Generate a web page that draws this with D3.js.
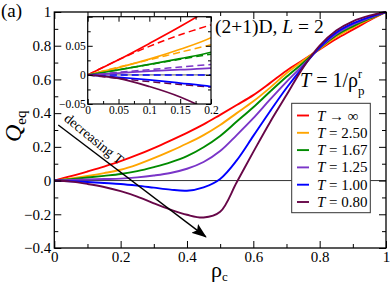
<!DOCTYPE html>
<html lang="en">
<head>
<meta charset="utf-8">
<title>Q_eq vs rho_c</title>
<script src="https://cdn.jsdelivr.net/npm/d3@7"></script>
<style>
  body { margin: 0; background: #fff; }
  svg, text { font-family: "Liberation Serif", "Times New Roman", serif; fill: #000; }
  .axis path, .axis line { stroke: #000; }
</style>
</head>
<body>
<script>
// rho_c sample points (main curves)
var rho = [0, 0.05, 0.1, 0.15, 0.2, 0.25, 0.3, 0.35, 0.4, 0.45, 0.5,
           0.55, 0.6, 0.65, 0.7, 0.75, 0.8, 0.85, 0.9, 0.95, 1];

// Q_eq for each temperature
var qInf  = [0, 0.026, 0.054, 0.083, 0.115, 0.152, 0.193, 0.237, 0.283, 0.333, 0.39,
             0.448, 0.507, 0.578, 0.652, 0.715, 0.778, 0.84, 0.895, 0.95, 1];
var q250  = [0, 0.0125, 0.027, 0.044, 0.064, 0.095, 0.133, 0.175, 0.22, 0.27, 0.33,
             0.4, 0.47, 0.55, 0.636, 0.71, 0.782, 0.853, 0.908, 0.956, 1];
var q167  = [0, 0.0085, 0.018, 0.028, 0.039, 0.056, 0.08, 0.108, 0.145, 0.198, 0.265,
             0.35, 0.435, 0.527, 0.616, 0.698, 0.785, 0.862, 0.915, 0.96, 1];
var q125  = [0, 0.003, 0.0065, 0.009, 0.0115, 0.019, 0.03, 0.045, 0.07, 0.11, 0.175,
             0.27, 0.37, 0.48, 0.586, 0.685, 0.787, 0.87, 0.925, 0.965, 1];
var q100  = [0, -0.004, -0.0085, -0.014, -0.02, -0.03, -0.042, -0.054, -0.06, -0.04, 0.01,
             0.12, 0.265, 0.41, 0.549, 0.675, 0.79, 0.878, 0.932, 0.97, 1];
var q080  = [0, -0.006, -0.02, -0.038, -0.063, -0.095, -0.135, -0.172, -0.203, -0.219, -0.185,
             -0.01, 0.17, 0.345, 0.507, 0.67, 0.8, 0.89, 0.945, 0.978, 1];

// inset dashed curves
var rhoInset = [0, 0.05, 0.1, 0.15, 0.2];
var dInf = [0, 0.026, 0.049, 0.069, 0.086];
var d250 = [0, 0.0135, 0.026, 0.039, 0.0517];
var d167 = [0, 0.009, 0.0178, 0.0268, 0.0357];
var d125 = [0, 0.0045, 0.009, 0.0135, 0.018];
var d100 = [0, 0, 0, 0, 0];
var d080 = [0, -0.006, -0.0115, -0.0165, -0.021];

var labels = ["T \u2192 \u221e", "T = 2.50", "T = 1.67", "T = 1.25", "T = 1.00", "T = 0.80"];
var colors = ["#ff0000", "#ffa500", "#008b00", "#7a35c8", "#0000ff", "#670748"];
var solidSeries = [qInf, q250, q167, q125, q100, q080];
var dashSeries = [dInf, d250, d167, d125, d100, d080];

var xMajor = [0, 0.2, 0.4, 0.6, 0.8, 1];
var xMinor = [0.1, 0.3, 0.5, 0.7, 0.9];
var yMajor = [-0.4, -0.2, 0, 0.2, 0.4, 0.6, 0.8, 1];
var yMinor = [-0.3, -0.1, 0.1, 0.3, 0.5, 0.7, 0.9];
var xiMajor = [0, 0.05, 0.1, 0.15, 0.2];
var xiMinor = [0.025, 0.075, 0.125, 0.175];
var yiMajor = [-0.05, 0, 0.05, 0.1];
var yiMinor = [-0.025, 0.025, 0.075];

var SERIF = "Liberation Serif";
var w = 390, h = 284;
var svg = d3.select("body").append("svg").attr("width", w).attr("height", h)
    .attr("font-family", SERIF);

// main scales
var x = d3.scaleLinear().domain([0, 1]).range([54.3, 386]);
var y = d3.scaleLinear().domain([-0.4, 1]).range([248, 12]);

var defs = svg.append("defs");
defs.append("clipPath").attr("id", "clipMain").append("rect")
    .attr("x", x(0)).attr("y", y(1) - 2).attr("width", x(1) - x(0) + 2).attr("height", y(-0.4) - y(1) + 2);
defs.append("marker").attr("id", "arrow")
    .attr("markerUnits", "userSpaceOnUse")
    .attr("viewBox", "0 0 15 11").attr("refX", 14).attr("refY", 5.5)
    .attr("markerWidth", 15).attr("markerHeight", 11).attr("orient", "auto")
    .append("path").attr("d", "M0,0 L15,5.5 L0,11 L3,5.5 Z").attr("fill", "#000");

// zero line
svg.append("line")
    .attr("x1", x(0)).attr("x2", x(1)).attr("y1", y(0)).attr("y2", y(0))
    .attr("stroke", "#333").attr("stroke-width", 1);

var line = d3.line()
    .x(function (d) { return x(d[0]); })
    .y(function (d) { return y(d[1]); })
    .curve(d3.curveCatmullRom.alpha(0.5));

svg.append("g").attr("clip-path", "url(#clipMain)")
    .selectAll("path").data(solidSeries).enter().append("path")
    .attr("d", function (s) { return line(s.map(function (v, i) { return [rho[i], v]; })); })
    .attr("fill", "none")
    .attr("stroke", function (s, i) { return colors[i]; })
    .attr("stroke-width", 1.9);

// axes, ticks pointing inward on all sides
function mkAxis(fn, scale, vals, size, labelled, pad) {
    var a = fn(scale).tickValues(vals).tickSize(size).tickSizeOuter(0).tickPadding(pad || 3);
    if (!labelled) a.tickFormat("");
    return a;
}
var fmt = function (d) { return d3.format("")(+d.toFixed(2)); };

var gx = svg.append("g").attr("class", "axis").attr("transform", "translate(0," + y(-0.4) + ")");
gx.call(mkAxis(d3.axisBottom, x, xMajor, -7, true, 3).tickFormat(fmt));
gx.append("g").call(mkAxis(d3.axisBottom, x, xMinor, -4, false));
var gxt = svg.append("g").attr("class", "axis").attr("transform", "translate(0," + y(1) + ")");
gxt.call(mkAxis(d3.axisTop, x, xMajor, -7, false));
gxt.append("g").call(mkAxis(d3.axisTop, x, xMinor, -4, false));

var gy = svg.append("g").attr("class", "axis").attr("transform", "translate(" + x(0) + ",0)");
gy.call(mkAxis(d3.axisLeft, y, yMajor, -7, true, 3).tickFormat(fmt));
gy.append("g").call(mkAxis(d3.axisLeft, y, yMinor, -4, false));
var gyr = svg.append("g").attr("class", "axis").attr("transform", "translate(" + x(1) + ",0)");
gyr.call(mkAxis(d3.axisRight, y, yMajor, -7, false));
gyr.append("g").call(mkAxis(d3.axisRight, y, yMinor, -4, false));

svg.selectAll(".axis text").style("font-size", "15px");
svg.selectAll(".axis .domain").remove();
svg.append("rect").attr("x", x(0)).attr("y", y(1))
    .attr("width", x(1) - x(0)).attr("height", y(-0.4) - y(1))
    .attr("fill", "none").attr("stroke", "#000").attr("stroke-width", 1.3);

// axis titles
var xl = svg.append("text").attr("x", 211).attr("y", 277).style("font-size", "22px");
xl.append("tspan").text("\u03c1");
xl.append("tspan").attr("dy", 4).style("font-size", "13px").text("c");
var ql = svg.append("text").attr("transform", "translate(21,142) rotate(-90)").style("font-size", "24px");
ql.append("tspan").style("font-style", "italic").text("Q");
ql.append("tspan").attr("dy", 5).style("font-size", "15px").text("eq");

svg.append("text").attr("x", 1).attr("y", 17).style("font-size", "19px").text("(a)");

// arrow "decreasing T"
var a0 = [0.012, 0.33], a1 = [0.457, -0.334];
svg.append("line")
    .attr("x1", x(a0[0])).attr("y1", y(a0[1])).attr("x2", x(a1[0])).attr("y2", y(a1[1]))
    .attr("stroke", "#000").attr("stroke-width", 1.4).attr("marker-end", "url(#arrow)");
var ang = Math.atan2(y(a1[1]) - y(a0[1]), x(a1[0]) - x(a0[0])) * 180 / Math.PI;
svg.append("text")
    .attr("transform", "translate(" + (x(a0[0]) + 5) + "," + (y(a0[1]) - 5) + ") rotate(" + (ang + 2) + ")")
    .style("font-size", "14px").text("decreasing T");

// labels
var t1 = svg.append("text").attr("x", 215).attr("y", 33).style("font-size", "19.5px");
t1.append("tspan").text("(2+1)D, ");
t1.append("tspan").style("font-style", "italic").text("L");
t1.append("tspan").text(" = 2");

var t2 = svg.append("text").attr("x", 300).attr("y", 87).style("font-size", "20px");
t2.append("tspan").style("font-style", "italic").text("T");
t2.append("tspan").text(" = 1/\u03c1");
t2.append("tspan").attr("dx", 0).attr("dy", -9).style("font-size", "12px").text("r");
t2.append("tspan").attr("dx", -4).attr("dy", 17).style("font-size", "13px").text("p");

// legend
var lg = svg.append("g");
lg.append("rect").attr("x", 291.7).attr("y", 103.3).attr("width", 78.6).attr("height", 109.4)
    .attr("fill", "#fff").attr("stroke", "#333").attr("stroke-width", 1);
labels.forEach(function (lab, i) {
    var yy = 115.5 + i * 17.3;
    lg.append("line").attr("x1", 297).attr("x2", 309).attr("y1", yy).attr("y2", yy)
        .attr("stroke", colors[i]).attr("stroke-width", 1.9);
    var t = lg.append("text").attr("x", 317).attr("y", yy + 5).style("font-size", "15px");
    t.append("tspan").style("font-style", "italic").text("T");
    t.append("tspan").text(lab.slice(1));
});

// inset
var xi = d3.scaleLinear().domain([0, 0.2]).range([87.7, 211]);
var yi = d3.scaleLinear().domain([-0.05, 0.1]).range([104, 16.7]);
var ins = svg.append("g");
ins.append("rect").attr("x", xi(0)).attr("y", yi(0.1)).attr("width", xi(0.2) - xi(0)).attr("height", yi(-0.05) - yi(0.1))
    .attr("fill", "#fff");
defs.append("clipPath").attr("id", "clipInset").append("rect")
    .attr("x", xi(0)).attr("y", yi(0.1)).attr("width", xi(0.2) - xi(0)).attr("height", yi(-0.05) - yi(0.1));

var lineI = d3.line()
    .x(function (d) { return xi(d[0]); })
    .y(function (d) { return yi(d[1]); })
    .curve(d3.curveCatmullRom.alpha(0.5));
var ic = ins.append("g").attr("clip-path", "url(#clipInset)");
ic.append("line").attr("x1", xi(0)).attr("x2", xi(0.2)).attr("y1", yi(0)).attr("y2", yi(0))
    .attr("stroke", "#333").attr("stroke-width", 0.8);
ic.selectAll("path.dash").data(dashSeries).enter().append("path").attr("class", "dash")
    .attr("d", function (s) { return lineI(s.map(function (v, i) { return [rhoInset[i], v]; })); })
    .attr("fill", "none").attr("stroke", function (s, i) { return colors[i]; })
    .attr("stroke-width", 1.5).attr("stroke-dasharray", "7,4");
ic.selectAll("path.solid").data(solidSeries).enter().append("path").attr("class", "solid")
    .attr("d", function (s) { return lineI(s.slice(0, 6).map(function (v, i) { return [rho[i], v]; })); })
    .attr("fill", "none").attr("stroke", function (s, i) { return colors[i]; })
    .attr("stroke-width", 1.7);

var gi = ins.append("g").attr("class", "inset");
var ib = gi.append("g").attr("transform", "translate(0," + yi(-0.05) + ")");
ib.call(mkAxis(d3.axisBottom, xi, xiMajor, -5, true, 2).tickFormat(fmt));
ib.append("g").call(mkAxis(d3.axisBottom, xi, xiMinor, -3, false));
var it = gi.append("g").attr("transform", "translate(0," + yi(0.1) + ")");
it.call(mkAxis(d3.axisTop, xi, xiMajor, -5, false));
it.append("g").call(mkAxis(d3.axisTop, xi, xiMinor, -3, false));
var il = gi.append("g").attr("transform", "translate(" + xi(0) + ",0)");
il.call(mkAxis(d3.axisLeft, yi, yiMajor, -5, true, 2).tickFormat(function (d) { return d === 0.1 ? "" : fmt(d); }));
il.append("g").call(mkAxis(d3.axisLeft, yi, yiMinor, -3, false));
var ir = gi.append("g").attr("transform", "translate(" + xi(0.2) + ",0)");
ir.call(mkAxis(d3.axisRight, yi, yiMajor, -5, false));
ir.append("g").call(mkAxis(d3.axisRight, yi, yiMinor, -3, false));
gi.selectAll("text").style("font-size", "11.5px");
gi.selectAll(".domain").remove();
gi.selectAll("line").attr("stroke", "#000");
ins.append("rect").attr("x", xi(0)).attr("y", yi(0.1)).attr("width", xi(0.2) - xi(0)).attr("height", yi(-0.05) - yi(0.1))
    .attr("fill", "none").attr("stroke", "#000").attr("stroke-width", 1.2);

// make every label use the serif face (d3 axes set sans-serif on their groups)
svg.selectAll("g").attr("font-family", SERIF);
svg.selectAll("text").attr("font-family", SERIF).style("font-family", SERIF);
</script>
</body>
</html>
